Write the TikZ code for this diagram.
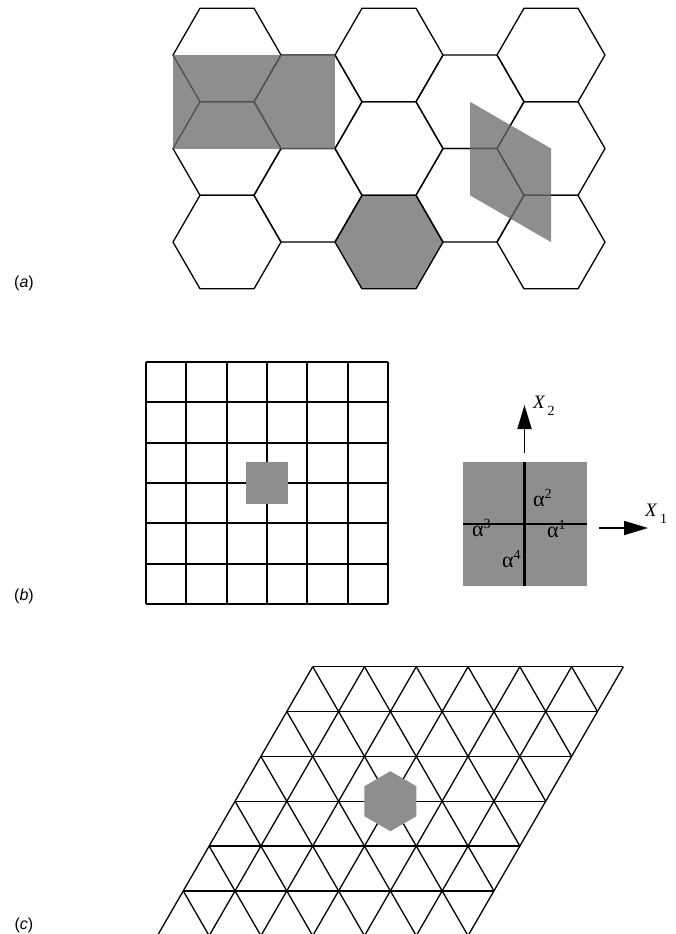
\documentclass[tikz,border=0pt]{standalone}
\usepackage{fontspec}
\setmainfont{Liberation Serif}
\newfontfamily\labfont{Liberation Sans}
\usetikzlibrary{arrows.meta}
\definecolor{shadegray}{RGB}{142,142,142}
\definecolor{veilgray}{RGB}{106,106,106}
\begin{document}
\begin{tikzpicture}[x=1pt,y=-1pt,
  hexedge/.style={line width=1.3pt,black,line join=round},
  gridline/.style={line width=1.7pt,black},
  trline/.style={line width=1.3pt,black},
  crossline/.style={line width=2.2pt,black},
  axarrow/.style={line width=1.8pt,-{Triangle[length=24pt,width=14pt]}},
  veilfill/.style={fill=veilgray,fill opacity=0.76},
  partlabel/.style={font=\labfont\fontsize{16}{16}\selectfont,inner sep=0pt},
  alab/.style={anchor=base west,inner sep=0pt,font=\fontsize{22}{22}\selectfont},
  xlab/.style={inner sep=0pt,font=\fontsize{19}{19}\selectfont\itshape},
  sublab/.style={inner sep=0pt,font=\fontsize{14}{14}\selectfont}]
\useasboundingbox (0,0) rectangle (676,934);
\def\hs{54}\def\hh{46.77}
% ---------- (a) honeycomb ----------
\fill[shadegray] ({389-\hs},242.06) -- ({389-\hs/2},{242.06-\hh}) -- ({389+\hs/2},{242.06-\hh}) -- ({389+\hs},242.06) -- ({389+\hs/2},{242.06+\hh}) -- ({389-\hs/2},{242.06+\hh}) -- cycle;
\foreach \cx/\cy in {227/55,227/148.53,227/242.06,308/101.77,308/195.3,389/55,389/148.53,389/242.06,470/101.77,470/195.3,551/55,551/148.53,551/242.06}
  \draw[hexedge] ({\cx-\hs},\cy) -- ({\cx-\hs/2},{\cy-\hh}) -- ({\cx+\hs/2},{\cy-\hh}) -- ({\cx+\hs},\cy) -- ({\cx+\hs/2},{\cy+\hh}) -- ({\cx-\hs/2},{\cy+\hh}) -- cycle;
\fill[veilfill] (173,55) rectangle (335,148.53);
\fill[veilfill] (470,101.77) -- (551,148.53) -- (551,242.06) -- (470,195.3) -- cycle;
\node[partlabel] (la) at (24,283) {(\textit{a})};
% ---------- (b) square grid ----------
\foreach \k in {0,...,6} {
  \draw[gridline] ({146+40.333*\k},362) -- ({146+40.333*\k},604);
  \draw[gridline] (146,{362+40.333*\k}) -- (388,{362+40.333*\k});
}
\fill[shadegray] (246,462) rectangle (288,504);
\fill[shadegray] (463,462) rectangle (587,586);
\draw[crossline] (524.5,462) -- (524.5,586);
\draw[crossline] (463,524) -- (587,524);
\coordinate (x2s) at (524.5,453);
\coordinate (x2e) at (524.5,405);
\draw[axarrow] (x2s) -- (x2e);
\coordinate (x1s) at (599,528);
\coordinate (x1e) at (648,528);
\draw[axarrow] (x1s) -- (x1e);
\node[xlab] (X2) at (539,402) {X};
\node[sublab] (X2s) at (551,411) {2};
\node[xlab] (X1) at (651,510) {X};
\node[sublab] (X1s) at (663.5,519) {1};
\node[alab] (a2) at (533,506) {α\raisebox{8pt}{\fontsize{14}{14}\selectfont 2}};
\node[alab] (a3) at (472,536) {α\raisebox{8pt}{\fontsize{14}{14}\selectfont 3}};
\node[alab] (a1) at (547,537) {α\raisebox{8pt}{\fontsize{14}{14}\selectfont 1}};
\node[alab] (a4) at (502,567) {α\raisebox{8pt}{\fontsize{14}{14}\selectfont 4}};
\node[partlabel] (lb) at (24,596) {(\textit{b})};
% ---------- (c) triangular lattice ----------
\def\ta{51.78}\def\th{44.84}
\foreach \j in {0,...,6} {
  \draw[trline] ({312.7-\ta/2*\j},{666.7+\th*\j}) -- ({312.7+6*\ta-\ta/2*\j},{666.7+\th*\j});
  \draw[trline] ({312.7+\ta*\j},666.7) -- ({312.7+\ta*\j-3*\ta},{666.7+6*\th});
}
\foreach \c in {-5,...,5} {
  \pgfmathtruncatemacro\js{max(0,-\c)}
  \pgfmathtruncatemacro\je{min(6,6-\c)}
  \draw[trline] ({312.7+\ta*(\js+\c)-\ta/2*\js},{666.7+\th*\js}) -- ({312.7+\ta*(\je+\c)-\ta/2*\je},{666.7+\th*\je});
}
\fill[shadegray] (390.4,{801.2-30}) -- ({390.4+25.98},{801.2-15}) -- ({390.4+25.98},{801.2+15}) -- (390.4,{801.2+30}) -- ({390.4-25.98},{801.2+15}) -- ({390.4-25.98},{801.2-15}) -- cycle;
\node[partlabel] (lc) at (24,925) {(\textit{c})};
\end{tikzpicture}
\end{document}
